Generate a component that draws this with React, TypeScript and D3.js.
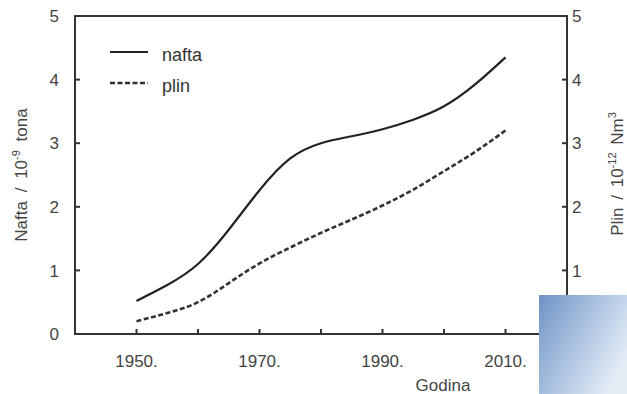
import React from "react";
import * as d3 from "d3";

// years
const years = [1950, 1955, 1960, 1965, 1970, 1975, 1980, 1985, 1990, 1995, 2000, 2005, 2010];
// nafta, 10^-9 tona (left axis)
const nafta = [0.52, 0.77, 1.1, 1.64, 2.26, 2.76, 3.0, 3.11, 3.22, 3.37, 3.58, 3.92, 4.35];
// plin, 10^-12 Nm3 (right axis)
const plin = [0.2, 0.33, 0.5, 0.8, 1.11, 1.36, 1.59, 1.8, 2.02, 2.27, 2.56, 2.86, 3.2];

const yTicks = [0, 1, 2, 3, 4, 5];
const xMinorTicks = [1950, 1960, 1970, 1980, 1990, 2000, 2010];
const xLabels = [1950, 1970, 1990, 2010];

const W = 627, H = 394;
const margin = { left: 75, right: 60, top: 16, bottom: 60 };
const font = "'Liberation Sans', Arial, sans-serif";
const ink = "#333";

export default function App() {
  const x = d3.scaleLinear().domain([1940, 2020]).range([margin.left, W - margin.right]);
  const yL = d3.scaleLinear().domain([0, 5]).range([H - margin.bottom, margin.top]);
  const yR = d3.scaleLinear().domain([0, 5]).range([H - margin.bottom, margin.top]);

  const line = (vals: number[], y: d3.ScaleLinear<number, number>) =>
    d3.line<number>()
      .x((_, i) => x(years[i]))
      .y(d => y(d))
      .curve(d3.curveNatural)(vals) || "";

  const x0 = x.range()[0], x1 = x.range()[1];
  const yb = yL.range()[0], yt = yL.range()[1];

  return (
    <svg width={W} height={H} style={{ position: "absolute", left: 0, top: 0, background: "#fff" }}
      fontFamily={font}>
      <defs>
        <linearGradient id="blueSq" x1="0" y1="0" x2="1" y2="0.6">
          <stop offset="0" stopColor="#6f92c4" />
          <stop offset="0.5" stopColor="#a9c1e0" />
          <stop offset="1" stopColor="#e3ebf5" />
        </linearGradient>
      </defs>

      {/* frame */}
      <rect x={x0} y={yt} width={x1 - x0} height={yb - yt} fill="none" stroke={ink} strokeWidth={2} />

      {/* left axis */}
      {yTicks.map(t => (
        <g key={"l" + t}>
          {t > 0 && t < 5 && <line x1={x0} x2={x0 + 5} y1={yL(t)} y2={yL(t)} stroke={ink} strokeWidth={2} />}
          <text x={59} y={yL(t)} dy="0.36em" textAnchor="end" fontSize={17} fill="#444">{t}</text>
        </g>
      ))}
      {/* right axis */}
      {yTicks.map(t => (
        <g key={"r" + t}>
          {t > 0 && t < 5 && <line x1={x1 - 5} x2={x1} y1={yR(t)} y2={yR(t)} stroke={ink} strokeWidth={2} />}
          <text x={572} y={yR(t)} dy="0.36em" textAnchor="start" fontSize={17} fill="#444">{t}</text>
        </g>
      ))}
      {/* bottom axis */}
      {xMinorTicks.map(t => (
        <line key={"b" + t} x1={x(t)} x2={x(t)} y1={yb} y2={yb - 5} stroke={ink} strokeWidth={2} />
      ))}
      {xLabels.map(t => (
        <text key={"bl" + t} x={x(t)} y={367} textAnchor="middle" fontSize={17} fill="#444">{t}.</text>
      ))}

      {/* axis titles */}
      <text x={443} y={391} textAnchor="middle" fontSize={17} fill="#444">Godina</text>
      <text transform="translate(27,175) rotate(-90)" textAnchor="middle" fontSize={17} fill="#444" wordSpacing={4}>
        Nafta / 10<tspan fontSize={11} dy={-7}>-9</tspan><tspan dy={7}> tona</tspan>
      </text>
      <text transform="translate(623,174) rotate(-90)" textAnchor="middle" fontSize={17} fill="#444" wordSpacing={3}>
        Plin / 10<tspan fontSize={11} dy={-7}>-12</tspan><tspan dy={7}> Nm</tspan>
        <tspan fontSize={11} dy={-7}>3</tspan>
      </text>

      {/* series */}
      <path d={line(nafta, yL)} fill="none" stroke="#222" strokeWidth={2.2} />
      <path d={line(plin, yR)} fill="none" stroke="#333" strokeWidth={2.6} strokeDasharray="5,2.5" />

      {/* legend */}
      <line x1={110} x2={148} y1={52} y2={52} stroke="#222" strokeWidth={2.2} />
      <text x={162} y={61} fontSize={18} fill="#333">nafta</text>
      <line x1={110} x2={148} y1={83} y2={83} stroke="#333" strokeWidth={2.6} strokeDasharray="5,2.5" />
      <text x={162} y={92} fontSize={18} fill="#333">plin</text>

      {/* decorative square in the corner */}
      <rect x={539} y={295} width={88} height={99} fill="url(#blueSq)" />
    </svg>
  );
}
